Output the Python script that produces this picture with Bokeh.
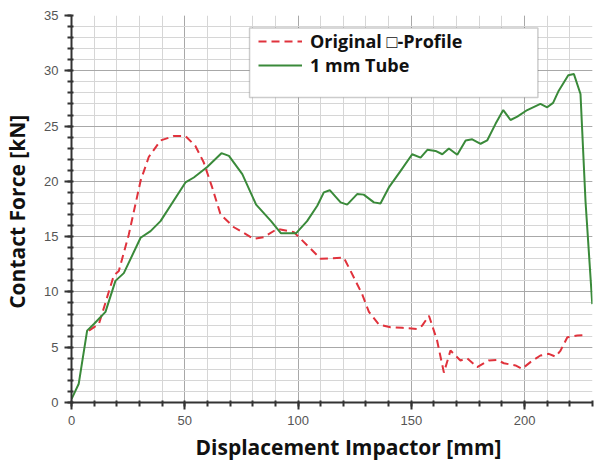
from bokeh.plotting import figure
from bokeh.models import (SingleIntervalTicker, Legend, LegendItem, BoxAnnotation, Title, Range1d)
from bokeh.embed import file_html
from bokeh.resources import INLINE

# ---- data ----
x_tube = [0, 3.2, 6.9, 9.9, 15, 19.4, 23.1, 30.5, 34.9, 39.3, 50.3, 54, 59.9, 66.2, 69.5,
          75.4, 81.5, 88.1, 92.5, 99.1, 104, 108.5, 111.4, 114, 118.8, 121.7, 126.1, 129,
          133.5, 136.4, 140.1, 145.3, 150.4, 154.1, 157.1, 160.7, 163.7, 166.6, 170.3, 174,
          176.9, 180.6, 183.5, 187.2, 190.6, 193.8, 196.8, 201.2, 207, 210, 212.6, 215.1,
          219.3, 221.8, 224.7, 226.9, 229.9]
y_tube = [0.3, 1.7, 6.5, 7.1, 8.2, 11.0, 11.7, 14.9, 15.5, 16.4, 19.9, 20.35, 21.3, 22.55, 22.3,
          20.65, 17.9, 16.4, 15.3, 15.3, 16.4, 17.8, 19.0, 19.2, 18.1, 17.9, 18.85, 18.8,
          18.1, 18.0, 19.45, 20.95, 22.45, 22.15, 22.85, 22.75, 22.45, 22.97, 22.4, 23.7,
          23.8, 23.4, 23.7, 25.2, 26.45, 25.55, 25.85, 26.45, 27.0, 26.7, 27.1, 28.2,
          29.6, 29.7, 27.9, 18.25, 8.9]

x_orig = [7.7, 12.1, 18.7, 20.9, 25.3, 30.5, 34.1, 39.3, 45.2, 50.3, 54.7, 58.4, 62.1, 65.8,
          71.7, 80.5, 84.9, 90.8, 98.2, 104.1, 110, 120.2, 123.2, 128.3, 131.3, 135.7,
          140.8, 146, 152.6, 154.8, 157.8, 161.4, 164.4, 167.3, 171.7, 174.7, 179.1, 184.2,
          187.9, 190.9, 196, 198.9, 202.6, 207, 210.7, 213.7, 215.9, 218.9, 223.3, 227.7]
y_orig = [6.5, 7.1, 11.5, 11.9, 15.2, 20.05, 22.2, 23.7, 24.1, 24.1, 23.2, 21.7, 19.45, 17.0,
          15.85, 14.8, 14.95, 15.7, 15.4, 14.2, 13.0, 13.1, 11.9, 9.8, 8.2, 7.05,
          6.8, 6.75, 6.65, 6.95, 7.85, 5.6, 2.7, 4.7, 3.8, 4.0, 3.2, 3.8,
          3.85, 3.55, 3.35, 3.05, 3.65, 4.25, 4.4, 4.15, 4.7, 5.9, 6.05, 6.1]

series_names = ["Original \u25a1-Profile", "1 mm Tube"]
x_label = "Displacement Impactor [mm]"
y_label = "Contact Force  [kN]"

p = figure(width=601, height=463, output_backend="svg", toolbar_location=None,
           x_range=Range1d(0, 230), y_range=Range1d(0, 35),
           min_border_left=71, min_border_right=9, min_border_top=15, min_border_bottom=61)
p.outline_line_color = None
p.background_fill_color = "white"

p.xaxis.ticker = SingleIntervalTicker(interval=50, num_minor_ticks=5)
p.yaxis.ticker = SingleIntervalTicker(interval=5, num_minor_ticks=5)

for ax in (p.xaxis[0], p.yaxis[0]):
    ax.axis_line_color = "#333333"
    ax.axis_line_width = 2
    ax.major_tick_line_color = "#333333"
    ax.major_tick_line_width = 2
    ax.minor_tick_line_color = "#333333"
    ax.minor_tick_line_width = 2
    ax.major_tick_in = 0
    ax.major_tick_out = 7
    ax.minor_tick_in = 2
    ax.minor_tick_out = 4
    ax.major_label_text_font = "Liberation Sans"
    ax.major_label_text_font_size = "13px"
    ax.major_label_text_color = "#555555"
    ax.major_label_standoff = 6

p.yaxis.axis_label = y_label
p.yaxis.axis_label_text_font = "Open Sans"
p.yaxis.axis_label_text_font_style = "bold"
p.yaxis.axis_label_text_font_size = "21px"
p.yaxis.axis_label_text_color = "#111111"
p.yaxis.axis_label_standoff = 10

for g in (p.xgrid[0], p.ygrid[0]):
    g.grid_line_color = "#a8a8a8"
    g.grid_line_width = 1
    g.minor_grid_line_color = "#d6d6d6"
    g.minor_grid_line_width = 1

r_orig = p.line(x_orig, y_orig, line_color="#e0323c", line_width=2, line_dash="8 5")
r_tube = p.line(x_tube, y_tube, line_color="#3a8a3a", line_width=2)

box = BoxAnnotation(left=78.6, right=205.9, top=33.86, bottom=27.58,
                    fill_color="white", fill_alpha=1.0,
                    line_color="#555555", line_width=1.5)
p.add_layout(box)

legend = Legend(items=[LegendItem(label=series_names[0], renderers=[r_orig]),
                       LegendItem(label=series_names[1], renderers=[r_tube])],
                location=(187, 325), padding=0, margin=0, spacing=0,
                glyph_width=44, glyph_height=20, label_height=20, label_standoff=8,
                label_text_font="Open Sans", label_text_font_style="bold",
                label_text_font_size="18px", label_text_color="#111111",
                border_line_color=None, background_fill_alpha=0)
p.add_layout(legend, "center")

xt = Title(text=x_label, align="left", offset=124, standoff=6,
           text_font="Open Sans", text_font_style="bold", text_font_size="21px",
           text_color="#111111")
p.add_layout(xt, "below")

open("out.html", "w").write(file_html(p, INLINE))
